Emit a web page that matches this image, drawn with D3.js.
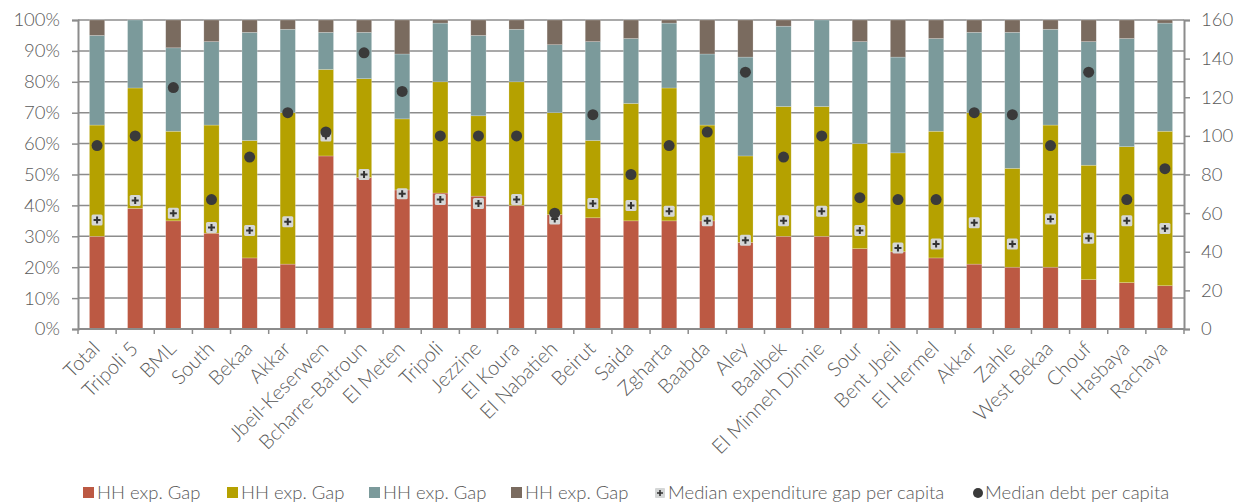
<!DOCTYPE html>
<html>
<head>
<meta charset="utf-8">
<script src="https://cdn.jsdelivr.net/npm/d3@7"></script>
<style>
  html, body { margin: 0; padding: 0; background: #fff; }
  svg { display: block; font-family: Lato, "Open Sans", sans-serif; font-weight: 300; }
</style>
</head>
<body>
<svg id="chart" width="1243" height="504"></svg>
<script>
const categories = ["Total","Tripoli 5","BML","South","Bekaa","Akkar","Jbeil-Keserwen","Bcharre-Batroun","El Meten","Tripoli","Jezzine","El Koura","El Nabatieh","Beirut","Saida","Zgharta","Baabda","Aley","Baalbek","El Minneh Dinnie","Sour","Bent Jbeil","El Hermel","Akkar","Zahle","West Bekaa","Chouf","Hasbaya","Rachaya"];
const gap1 = [30,39,35,31,23,21,56,49,45,44,43,40,37,36,35,35,35,28,30,30,26,25,23,21,20,20,16,15,14];
const gap2 = [36,39,29,35,38,49,28,32,23,36,26,40,33,25,38,43,31,28,42,42,34,32,41,49,32,46,37,44,50];
const gap3 = [29,22,27,27,35,27,12,15,21,19,26,17,22,32,21,21,23,32,26,28,33,31,30,26,44,31,40,35,35];
const gap4 = [5,0,9,7,4,3,4,4,11,1,5,3,8,7,6,1,11,12,2,0,7,12,6,4,4,3,7,6,1];
const medianExpGap = [56.5,66.5,60,52.5,51,55.5,100,80,70,67,65,67,57,65,64,61,56,46,56,61,51,42,44,55,44,57,47,56,52];
const medianDebt = [95,100,125,67,89,112,102,143,123,100,100,100,60,111,80,95,102,133,89,100,68,67,67,112,111,95,133,67,83];
const leftTicks = [0,10,20,30,40,50,60,70,80,90,100];
const rightTicks = [0,20,40,60,80,100,120,140,160];
const seriesNames = ["HH exp. Gap","HH exp. Gap","HH exp. Gap","HH exp. Gap"];
const lineNames = ["Median expenditure gap per capita","Median debt per capita"];
const colors = ["#BC5943","#B5A100","#7B9A9B","#7A6B5F"];

const FS = 18.5;
const FSX = 20;
const svg = d3.select("#chart");
const m = {left: 78, right: 1184, top: 20, bottom: 329};
const idx = categories.map((d,i)=>i);
const x = d3.scaleBand().domain(idx).range([m.left, m.right]).paddingInner(0.6).paddingOuter(0.3);
const xb = d3.scaleBand().domain(idx).range([m.left, m.right]);
const yL = d3.scaleLinear().domain([0,100]).range([m.bottom, m.top]);
const yR = d3.scaleLinear().domain([0,160]).range([m.bottom, m.top]);
const gridColor = "#8c8c8c", textColor = "#595959";

// gridlines
svg.append("g").selectAll("line").data(leftTicks.filter(d=>d>0)).join("line")
  .attr("x1", m.left).attr("x2", m.right)
  .attr("y1", d=>yL(d)).attr("y2", d=>yL(d))
  .attr("stroke", gridColor).attr("stroke-width", 1.5);

// stacked bars
const table = idx.map(i => ({i, g1: gap1[i], g2: gap2[i], g3: gap3[i], g4: gap4[i]}));
const stack = d3.stack().keys(["g1","g2","g3","g4"])(table);
svg.append("g").selectAll("g").data(stack).join("g")
  .attr("fill", (d,k)=>colors[k])
  .selectAll("rect").data(d=>d).join("rect")
  .attr("x", d=>x(d.data.i)).attr("width", x.bandwidth())
  .attr("y", d=>yL(d[1])).attr("height", d=>Math.max(0, yL(d[0])-yL(d[1])))
  .attr("stroke", "#ffffff").attr("stroke-opacity", 0.35).attr("stroke-width", 0.6);

// left axis
const axL = svg.append("g").attr("transform", `translate(${m.left},0)`)
  .call(d3.axisLeft(yL).tickValues(leftTicks).tickFormat(d=>d+"%").tickSize(6).tickPadding(12));
axL.select(".domain").attr("stroke", gridColor).attr("stroke-width", 2);
axL.selectAll(".tick line").attr("stroke", gridColor).attr("stroke-width", 1.5);
axL.selectAll("text").attr("fill", textColor).attr("font-size", FS).attr("font-family", "Lato").attr("font-weight", 300);

// right axis
const axR = svg.append("g").attr("transform", `translate(${m.right},0)`)
  .call(d3.axisRight(yR).tickValues(rightTicks).tickSize(6).tickPadding(11));
axR.select(".domain").attr("stroke", gridColor).attr("stroke-width", 2);
axR.selectAll(".tick line").attr("stroke", gridColor).attr("stroke-width", 1.5);
axR.selectAll("text").attr("fill", textColor).attr("font-size", FS).attr("font-family", "Lato").attr("font-weight", 300);

// bottom axis line and ticks at band boundaries
const bottom = svg.append("g");
bottom.append("line").attr("x1", m.left).attr("x2", m.right).attr("y1", m.bottom).attr("y2", m.bottom)
  .attr("stroke", gridColor).attr("stroke-width", 2);
bottom.selectAll("line.tk").data(idx.concat([categories.length])).join("line").attr("class","tk")
  .attr("x1", d=> d < categories.length ? xb(d) : m.right).attr("x2", d=> d < categories.length ? xb(d) : m.right)
  .attr("y1", m.bottom).attr("y2", m.bottom+5)
  .attr("stroke", gridColor).attr("stroke-width", 1.5);
bottom.selectAll("text").data(idx).join("text")
  .attr("transform", d=>`translate(${xb(d)+xb.bandwidth()/2-1},${m.bottom+16}) rotate(-45)`)
  .attr("text-anchor", "end").attr("dy", "0.35em")
  .attr("fill", textColor).attr("font-size", FSX)
  .text(d=>categories[d]);

// markers
function plusMarker(g, cx, cy) {
  g.append("rect").attr("x", cx-5.5).attr("y", cy-5.5).attr("width", 11).attr("height", 11)
    .attr("rx", 1.5).attr("fill", "#d4d6d6");
  g.append("path").attr("d", `M${cx-3.5},${cy}H${cx+3.5}M${cx},${cy-3.5}V${cy+3.5}`)
    .attr("stroke", "#333333").attr("stroke-width", 2);
}
const mk = svg.append("g");
idx.forEach(i => {
  plusMarker(mk, x(i)+x.bandwidth()/2, yR(medianExpGap[i]));
});
svg.append("g").selectAll("circle").data(idx).join("circle")
  .attr("cx", d=>x(d)+x.bandwidth()/2).attr("cy", d=>yR(medianDebt[d]))
  .attr("r", 5.5).attr("fill", "#3a3a3a");

// legend
const ly = 492;
const leg = svg.append("g").attr("font-size", FS);
const legX = [83, 227, 369, 511];
seriesNames.forEach((n,k) => {
  leg.append("rect").attr("x", legX[k]).attr("y", ly-5).attr("width", 11).attr("height", 11).attr("fill", colors[k]);
  leg.append("text").attr("x", legX[k]+14).attr("y", ly+1).attr("dy", "0.35em").attr("fill", textColor).text(n);
});
{
  const g = leg.append("g");
  g.append("rect").attr("x", 655).attr("y", ly-4).attr("width", 10).attr("height", 10).attr("rx", 1).attr("fill", "#d4d6d6");
  g.append("path").attr("d", `M${657},${ly+1}H${663}M${660},${ly-2}V${ly+4}`).attr("stroke", "#333").attr("stroke-width", 1.6);
  leg.append("text").attr("x", 668).attr("y", ly+1).attr("dy", "0.35em").attr("fill", textColor).text(lineNames[0]);
  leg.append("circle").attr("cx", 978).attr("cy", ly+1).attr("r", 5).attr("fill", "#3a3a3a");
  leg.append("text").attr("x", 985).attr("y", ly+1).attr("dy", "0.35em").attr("fill", textColor).text(lineNames[1]);
}
</script>
</body>
</html>
